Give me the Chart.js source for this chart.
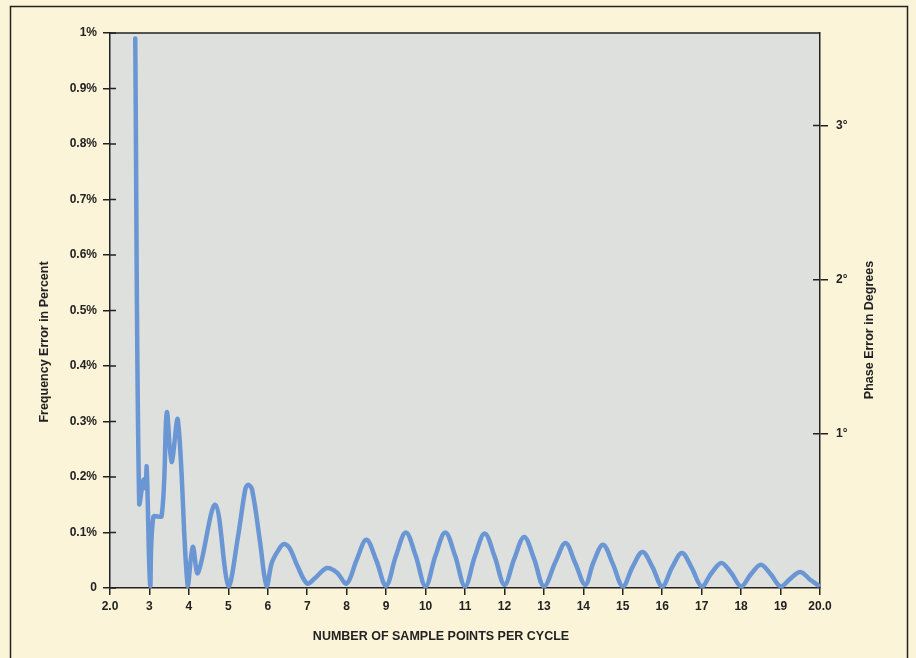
<!DOCTYPE html>
<html>
<head>
<meta charset="utf-8">
<script src="https://cdn.jsdelivr.net/npm/chart.js@4/dist/chart.umd.min.js"></script>
<style>
  html, body { margin: 0; padding: 0; background: #fcf4d9; }
  #wrap { width: 916px; height: 658px; }
</style>
</head>
<body>
<div id="wrap"><canvas id="chart" width="916" height="658"></canvas></div>
<script>
// sample points per cycle vs frequency error (%)
const samplesPerCycle = [
  2.64, 2.74, 2.85, 2.90, 2.93, 3.02, 3.10, 3.31, 3.44, 3.56, 3.72, 3.97,
  4.10, 4.23, 4.67, 5.00, 5.25, 5.43, 5.50, 5.60, 5.80, 5.97,
  6.10, 6.25, 6.40, 6.55, 6.75, 7.00, 7.20, 7.50, 7.75, 8.00,
  8.25, 8.50, 8.75, 9.00, 9.25, 9.50, 9.75, 10.00,
  10.25, 10.50, 10.75, 11.00, 11.25, 11.50, 11.75, 12.00,
  12.25, 12.50, 12.75, 13.00, 13.30, 13.55, 13.80, 14.05,
  14.25, 14.50, 14.75, 15.00, 15.25, 15.50, 15.75, 16.00,
  16.25, 16.50, 16.75, 17.00, 17.25, 17.50, 17.75, 18.00,
  18.25, 18.50, 18.75, 19.00, 19.25, 19.50, 19.75, 19.95
];
const freqErrorPct = [
  0.99, 0.153, 0.195, 0.18, 0.218, 0.004, 0.128, 0.13, 0.316, 0.227, 0.303, 0.004,
  0.074, 0.027, 0.150, 0.004, 0.095, 0.178, 0.186, 0.178, 0.085, 0.004,
  0.045, 0.066, 0.079, 0.072, 0.040, 0.008, 0.018, 0.036, 0.028, 0.008,
  0.050, 0.087, 0.050, 0.004, 0.058, 0.100, 0.058, 0.003,
  0.058, 0.100, 0.058, 0.003, 0.057, 0.098, 0.057, 0.006,
  0.053, 0.092, 0.053, 0.003, 0.048, 0.081, 0.044, 0.006,
  0.045, 0.078, 0.043, 0.003, 0.038, 0.065, 0.038, 0.003,
  0.037, 0.063, 0.036, 0.003, 0.027, 0.045, 0.027, 0.003,
  0.025, 0.042, 0.025, 0.003, 0.017, 0.029, 0.015, 0.005
];

const xTickLabels = ["2.0", "3", "4", "5", "6", "7", "8", "9", "10", "11", "12",
  "13", "14", "15", "16", "17", "18", "19", "20.0"];
const yTickLabels = ["0", "0.1%", "0.2%", "0.3%", "0.4%", "0.5%", "0.6%",
  "0.7%", "0.8%", "0.9%", "1%"];
const phaseTicks = [1, 2, 3];
const phaseTickLabels = ["1°", "2°", "3°"];

const INK = "#222";
const tickFont = { family: "'Liberation Sans', Arial, sans-serif", size: 12, weight: "bold" };

const paperPlugin = {
  id: "paper",
  beforeDraw(chart) {
    const { ctx, chartArea: a } = chart;
    ctx.save();
    ctx.fillStyle = "#fcf4d9";
    ctx.fillRect(0, 0, chart.width, chart.height);
    ctx.strokeStyle = INK;
    ctx.lineWidth = 1.5;
    ctx.strokeRect(10.5, 6.5, 897, 700);
    ctx.fillStyle = "#dde0dd";
    ctx.fillRect(a.left, a.top, a.right - a.left, a.bottom - a.top);
    ctx.restore();
  },
  afterDraw(chart) {
    const { ctx, chartArea: a, scales } = chart;
    ctx.save();
    ctx.strokeStyle = INK;
    ctx.lineWidth = 1.5;
    // top frame line
    ctx.beginPath();
    ctx.moveTo(a.left, a.top);
    ctx.lineTo(a.right, a.top);
    ctx.stroke();
    // tick stubs that cross into the plot
    ctx.beginPath();
    scales.y.ticks.forEach(t => {
      const py = scales.y.getPixelForValue(t.value);
      ctx.moveTo(a.left, py);
      ctx.lineTo(a.left + 6, py);
    });
    scales.y1.ticks.forEach(t => {
      const py = scales.y1.getPixelForValue(t.value);
      ctx.moveTo(a.right - 7, py);
      ctx.lineTo(a.right, py);
    });
    ctx.stroke();

    // axis titles
    ctx.fillStyle = INK;
    ctx.textAlign = "center";
    ctx.textBaseline = "middle";
    ctx.font = "bold 12.5px 'Liberation Sans', Arial, sans-serif";
    ctx.fillText("NUMBER OF SAMPLE POINTS PER CYCLE", 441, 637);
    ctx.save();
    ctx.translate(45, 342);
    ctx.rotate(-Math.PI / 2);
    ctx.fillText("Frequency Error in Percent", 0, 0);
    ctx.restore();
    ctx.save();
    ctx.translate(870, 330);
    ctx.rotate(-Math.PI / 2);
    ctx.fillText("Phase Error in Degrees", 0, 0);
    ctx.restore();
    ctx.restore();
  }
};

new Chart(document.getElementById("chart"), {
  type: "line",
  data: {
    datasets: [{
      data: samplesPerCycle.map((x, i) => ({ x, y: freqErrorPct[i] })),
      borderColor: "#6a96d4",
      borderWidth: 4.5,
      borderCapStyle: "round",
      borderJoinStyle: "round",
      tension: 0.35,
      pointRadius: 0,
      fill: false,
      yAxisID: "y"
    }]
  },
  options: {
    responsive: false,
    animation: false,
    devicePixelRatio: 1,
    layout: { padding: { top: 33, left: 0, right: 0, bottom: 0 } },
    plugins: { legend: { display: false }, tooltip: { enabled: false } },
    scales: {
      x: {
        type: "linear",
        min: 2,
        max: 20,
        afterFit(s) { s.height = 70; },
        ticks: {
          stepSize: 1,
          color: INK,
          font: tickFont,
          padding: 4,
          maxRotation: 0,
          autoSkip: false,
          callback: (v, i) => xTickLabels[i]
        },
        grid: { drawOnChartArea: false, tickLength: 7, color: INK, lineWidth: 1.5 },
        border: { color: INK, width: 1.5 }
      },
      y: {
        position: "left",
        min: 0,
        max: 1,
        afterFit(s) { s.width = 110; },
        ticks: {
          stepSize: 0.1,
          color: INK,
          font: tickFont,
          padding: 6,
          autoSkip: false,
          callback: (v, i) => yTickLabels[i]
        },
        grid: { drawOnChartArea: false, tickLength: 7, color: INK, lineWidth: 1.5 },
        border: { color: INK, width: 1.5 }
      },
      y1: {
        position: "right",
        min: 0,
        max: 3.6,
        afterFit(s) { s.width = 96; },
        afterBuildTicks(s) { s.ticks = phaseTicks.map(v => ({ value: v })); },
        ticks: {
          color: INK,
          font: tickFont,
          padding: 8,
          callback: (v, i) => phaseTickLabels[i]
        },
        grid: { drawOnChartArea: false, tickLength: 8, color: INK, lineWidth: 1.5 },
        border: { color: INK, width: 1.5 }
      }
    }
  },
  plugins: [paperPlugin]
});
</script>
</body>
</html>
